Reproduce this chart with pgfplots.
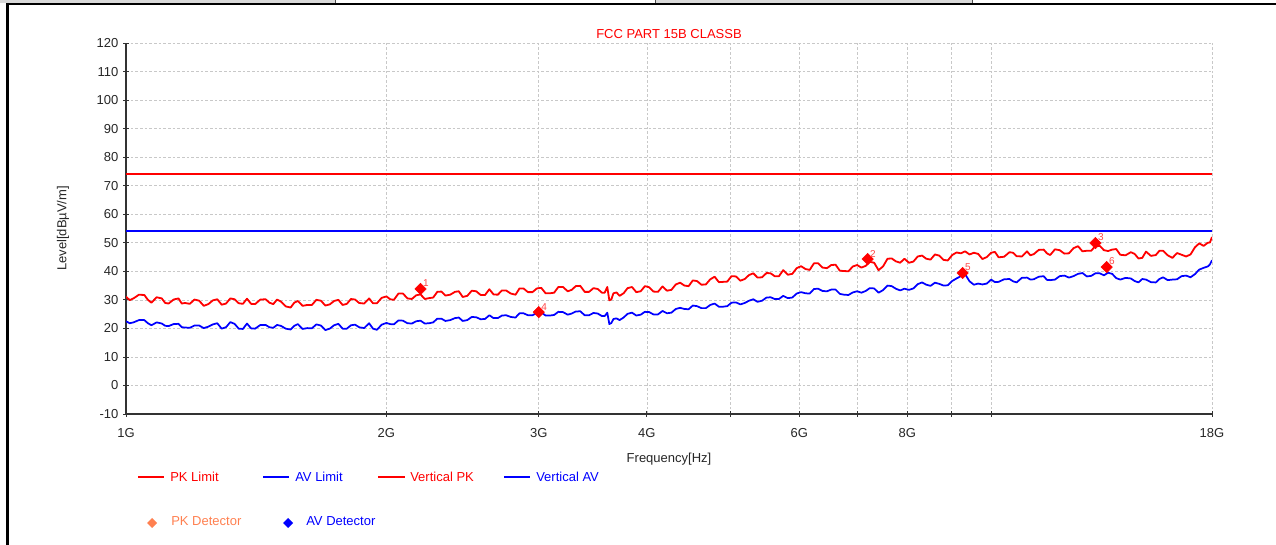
\documentclass[border=0pt]{standalone}
\usepackage{pgfplots}
\pgfplotsset{compat=1.18}
\usepackage{pgfplotstable}
\usepackage{fontspec}
\setmainfont{Liberation Sans}
\newcommand\cf{\fontsize{9.75}{11.5}\selectfont}
\definecolor{pkred}{RGB}{255,0,0}
\definecolor{avblue}{RGB}{0,0,255}
\definecolor{lblred}{RGB}{255,70,70}
\definecolor{coral}{RGB}{255,128,80}
\definecolor{gridgray}{RGB}{200,200,200}

% scan: frequency [GHz], vertical PK, vertical AV [dBuV/m]
\pgfplotstableread{
f pk av
1.00 31.1 22.5
1.01 29.9 21.8
1.02 30.5 22.1
1.035 31.8 22.9
1.05 31.7 22.9
1.06 30.0 21.8
1.07 29.0 21.1
1.085 30.9 22.1
1.10 30.5 21.7
1.11 28.9 20.9
1.12 28.7 20.8
1.135 30.1 21.5
1.15 30.5 21.6
1.16 28.7 20.4
1.17 28.9 20.3
1.185 28.6 20.2
1.20 30.1 21.0
1.215 29.7 21.0
1.23 27.9 20.1
1.245 28.5 20.6
1.26 29.8 21.4
1.275 30.2 21.8
1.29 28.3 19.9
1.305 28.7 20.4
1.32 30.5 22.2
1.335 30.2 21.6
1.35 28.8 19.9
1.365 28.6 19.8
1.38 30.4 21.7
1.395 28.6 20.0
1.41 28.5 19.9
1.43 30.1 21.2
1.45 30.2 21.2
1.465 29.0 20.4
1.48 28.5 20.2
1.495 30.1 21.2
1.51 29.4 20.9
1.53 27.7 19.9
1.55 27.3 19.6
1.565 29.0 20.9
1.58 29.6 21.5
1.60 27.9 19.8
1.62 28.2 20.1
1.64 28.2 20.0
1.66 30.0 21.4
1.68 29.7 21.0
1.70 28.0 19.4
1.72 28.4 19.9
1.74 29.6 21.1
1.76 30.0 21.6
1.78 28.2 19.9
1.80 28.6 19.9
1.82 30.3 21.1
1.84 30.1 21.3
1.86 28.9 20.4
1.885 28.7 20.1
1.91 30.5 21.8
1.93 28.8 19.9
1.95 28.8 19.5
1.975 30.7 21.3
2.00 31.2 21.9
2.02 30.2 21.5
2.04 30.0 21.4
2.065 32.2 22.8
2.09 32.2 22.7
2.115 30.5 21.8
2.14 30.3 21.7
2.165 31.6 22.5
2.19 31.9 22.7
2.215 30.3 21.7
2.24 30.6 21.8
2.265 30.8 22.1
2.29 32.8 23.4
2.315 32.9 23.4
2.34 31.5 22.6
2.37 31.8 22.9
2.40 32.8 23.6
2.425 33.0 23.8
2.45 31.0 22.6
2.48 31.4 22.9
2.51 33.2 24.0
2.54 33.0 23.9
2.57 31.7 23.2
2.60 31.7 23.3
2.63 33.7 24.6
2.66 31.9 23.6
2.69 31.8 23.6
2.72 33.3 24.5
2.75 33.3 24.6
2.785 32.2 24.0
2.82 31.8 23.8
2.85 34.0 25.3
2.88 34.0 25.3
2.915 32.7 24.6
2.95 32.7 24.6
2.985 34.0 25.4
3.02 34.2 25.6
3.055 32.3 24.5
3.09 32.3 24.5
3.125 32.5 24.7
3.16 34.5 25.8
3.20 34.5 25.7
3.24 33.0 24.8
3.275 33.5 25.2
3.31 34.8 25.9
3.35 34.9 26.0
3.39 32.8 24.6
3.43 32.8 24.6
3.47 34.1 25.4
3.51 33.8 25.2
3.55 32.5 24.3
3.575 32.5 24.3
3.60 34.5 25.5
3.62 29.8 21.5
3.64 30.2 21.9
3.66 32.3 23.3
3.69 32.6 23.5
3.72 31.4 22.9
3.76 32.3 23.8
3.80 34.1 25.1
3.845 34.5 25.5
3.89 32.7 24.5
3.935 33.0 24.8
3.98 34.8 25.8
4.025 34.4 25.7
4.07 32.9 24.9
4.12 32.8 24.9
4.17 34.7 26.1
4.22 33.2 25.3
4.27 33.5 25.5
4.32 35.4 26.8
4.37 36.0 27.2
4.42 35.0 26.8
4.47 34.8 26.7
4.52 36.8 28.0
4.57 36.6 27.8
4.625 35.3 27.1
4.68 35.4 27.1
4.735 37.2 28.2
4.79 38.1 28.7
4.845 36.2 27.6
4.90 36.3 27.6
4.955 36.4 27.8
5.01 38.3 29.0
5.07 38.2 29.1
5.13 36.7 28.4
5.19 37.3 28.9
5.25 38.7 29.7
5.31 39.3 30.2
5.37 37.8 29.3
5.435 37.9 29.7
5.50 39.4 30.8
5.56 39.3 30.9
5.62 38.3 30.3
5.685 38.3 30.3
5.75 40.4 31.4
5.82 38.8 30.6
5.89 39.1 30.8
5.96 41.1 32.2
6.03 41.8 32.7
6.10 40.8 32.3
6.17 40.5 32.2
6.24 42.8 33.8
6.31 42.8 33.9
6.385 41.3 33.1
6.46 41.1 33.0
6.535 42.2 33.6
6.61 42.3 33.6
6.685 40.2 32.1
6.76 40.1 31.8
6.84 40.0 31.7
6.92 41.7 32.6
7.00 42.2 33.0
7.08 41.3 32.5
7.16 41.9 33.1
7.24 43.3 34.1
7.325 43.0 34.0
7.41 40.4 32.5
7.50 41.7 33.4
7.59 44.4 35.0
7.675 44.5 34.8
7.76 43.5 33.9
7.85 43.0 33.3
7.94 44.4 33.9
8.035 43.0 33.5
8.13 43.4 34.0
8.225 45.2 35.5
8.32 45.5 36.1
8.415 44.4 35.3
8.51 44.1 34.9
8.61 45.9 36.0
8.71 45.5 35.6
8.81 44.0 35.0
8.91 43.8 35.1
9.015 45.7 36.6
9.12 46.6 37.5
9.225 46.3 38.3
9.33 47.0 39.0
9.44 45.9 36.5
9.55 46.5 35.3
9.66 46.1 35.7
9.77 44.3 35.4
9.885 45.0 35.7
10.0 46.5 37.1
10.1 46.8 36.2
10.2 44.9 36.3
10.35 45.1 37.2
10.5 46.7 37.3
10.6 46.5 36.5
10.7 45.3 36.1
10.85 45.2 37.7
11.0 47.0 37.8
11.1 45.6 37.1
11.2 46.0 37.2
11.35 47.5 38.1
11.5 47.6 38.3
11.6 46.3 37.0
11.7 45.7 36.9
11.85 47.7 37.1
12.0 47.4 38.3
12.15 46.2 38.5
12.3 46.3 37.8
12.45 48.1 38.3
12.6 48.8 39.1
12.75 47.0 39.4
12.9 47.2 38.2
13.05 47.2 38.4
13.2 48.9 39.3
13.35 48.9 39.3
13.5 47.4 38.6
13.65 47.1 39.5
13.8 47.6 39.1
13.95 47.8 37.6
14.1 45.8 37.1
14.3 45.6 37.7
14.5 46.7 37.5
14.65 46.1 36.6
14.8 44.5 36.1
14.95 44.7 37.3
15.1 46.9 37.1
15.3 45.4 36.2
15.5 45.7 36.1
15.65 47.2 37.3
15.8 47.2 37.9
16.0 45.6 36.9
16.2 44.7 37.1
16.4 46.4 37.2
16.6 45.8 38.3
16.8 45.2 38.5
17.0 45.9 37.9
17.2 48.4 39.0
17.4 49.8 40.6
17.6 48.9 41.2
17.8 50.0 41.7
17.9 50.1 42.4
18.0 52.0 43.9
}\scan

% detector readings
\pgfplotstableread{
f v lab
2.19 33.8 1
7.20 44.3 2
13.2 49.9 3
}\pkdet
\pgfplotstableread{
f v lab
3.00 25.7 4
9.27 39.4 5
13.6 41.5 6
}\avdet

\begin{document}
\begin{tikzpicture}
\useasboundingbox (0,0) rectangle (957pt,408.75pt);

\begin{axis}[
    at={(94.5pt,98.25pt)}, anchor=south west,
    scale only axis, width=814.5pt, height=278.25pt,
    xmode=log, xmin=1, xmax=18, ymin=-10, ymax=120,
    xtick={1,2,3,4,5,6,7,8,9,10,18},
    xticklabels={1G,2G,3G,4G,,6G,,8G,,,18G},
    ytick={-10,0,...,120},
    axis x line=bottom, axis y line=left,
    axis line style={-, black!80, line width=0.8pt},
    tick align=center, major tick length=4.5pt,
    tick style={black!80, line width=0.6pt},
    grid=major,
    major grid style={gridgray, dash pattern=on 2pt off 1.5pt, line width=0.5pt},
    ticklabel style={font=\cf, text=black!85},
    xticklabel style={yshift=-5pt},
    /pgf/number format/assume math mode=true,
    xlabel={Frequency[Hz]}, ylabel={Level[dBµV/m]},
    xlabel style={font=\cf, text=black!85, at={(axis description cs:0.5,-0.121)}, anchor=center},
    ylabel style={font=\cf, text=black!85, at={(axis description cs:-0.058,0.5)}, anchor=center},
    title={FCC PART 15B CLASSB},
    title style={font=\cf, text=pkred, at={(axis description cs:0.5,1.0243)}, anchor=center, yshift=-6pt},
]
    % limits
    \addplot[draw=pkred, line width=1.3pt] coordinates {(1,74) (18,74)};
    \addplot[draw=avblue, line width=1.3pt] coordinates {(1,54) (18,54)};

    % scans
    \addplot[draw=pkred, line width=1.35pt, line join=round] table[x=f, y=pk] {\scan};
    \addplot[draw=avblue, line width=1.3pt, line join=round] table[x=f, y=av] {\scan};

    % detector points (all drawn red in the plot)
    \addplot[only marks, mark=square*, mark size=3pt,
        mark options={rotate=45, fill=pkred, draw=pkred},
        nodes near coords, point meta=explicit symbolic,
        every node near coord/.style={font=\fontsize{7.5}{8}\selectfont, text=lblred,
            anchor=south west, inner sep=0.5pt, xshift=1.2pt, yshift=0.8pt}]
        table[x=f, y=v, meta=lab] {\pkdet};
    \addplot[only marks, mark=square*, mark size=3pt,
        mark options={rotate=45, fill=pkred, draw=pkred},
        nodes near coords, point meta=explicit symbolic,
        every node near coord/.style={font=\fontsize{7.5}{8}\selectfont, text=lblred,
            anchor=south west, inner sep=0.5pt, xshift=1.2pt, yshift=0.8pt}]
        table[x=f, y=v, meta=lab] {\avdet};
\end{axis}

% page furniture and legend, in pixel units measured from the top left
\begin{scope}[shift={(0pt,408.75pt)}, x=0.75pt, y=-0.75pt]
    \fill[black!15] (0,0) rectangle (335,3);
    \fill[black!15] (655,0) rectangle (972,3);
    \draw[black!70, line width=0.75pt] (335,0) -- (335,3) (655,0) -- (655,3) (972,0) -- (972,3);
    \draw[black, line width=1.6pt] (6,4) -- (1276,4);
    \draw[black, line width=2.2pt] (7.5,3) -- (7.5,545);

    \draw[pkred, line width=1.2pt] (138,477) -- (164,477);
    \node[anchor=west, inner sep=0, font=\cf, text=pkred] at (170,477) {PK Limit};
    \draw[avblue, line width=1.2pt] (263,477) -- (289,477);
    \node[anchor=west, inner sep=0, font=\cf, text=avblue] at (295,477) {AV Limit};
    \draw[pkred, line width=1.2pt] (378,477) -- (405,477);
    \node[anchor=west, inner sep=0, font=\cf, text=pkred] at (410,477) {Vertical PK};
    \draw[avblue, line width=1.2pt] (504,477) -- (530,477);
    \node[anchor=west, inner sep=0, font=\cf, text=avblue] at (536,477) {Vertical AV};

    \fill[coral] (152,518) -- (157,523) -- (152,528) -- (147,523) -- cycle;
    \node[anchor=west, inner sep=0, font=\cf, text=coral] at (171,521) {PK Detector};
    \fill[avblue] (288,518) -- (293,523) -- (288,528) -- (283,523) -- cycle;
    \node[anchor=west, inner sep=0, font=\cf, text=avblue] at (306,521) {AV Detector};
\end{scope}
\end{tikzpicture}
\end{document}
